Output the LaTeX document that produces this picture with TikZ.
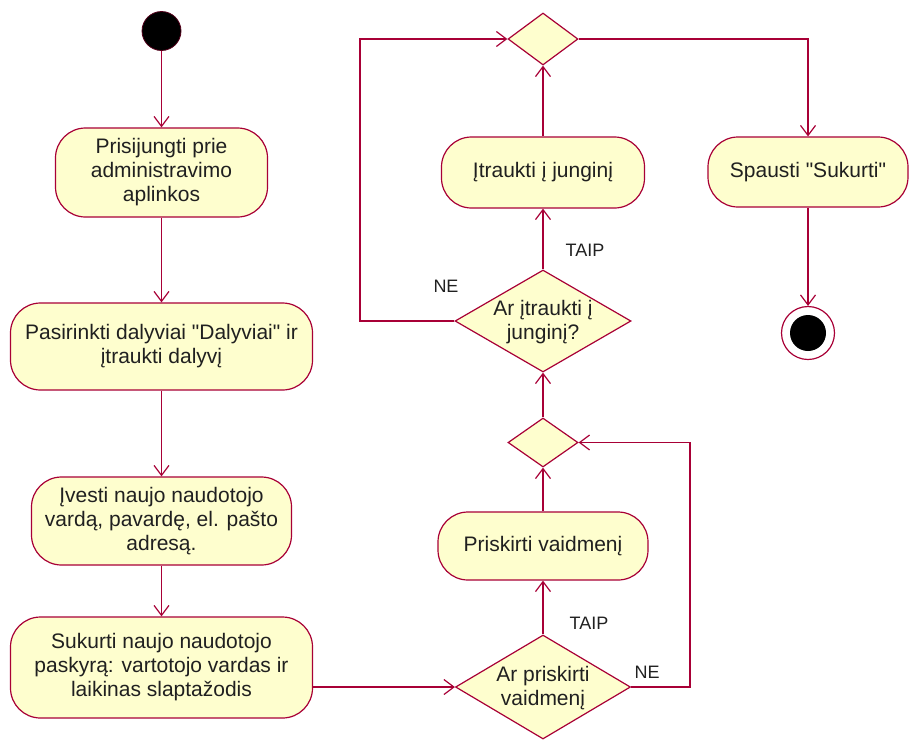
\documentclass[tikz,border=0pt]{standalone}
\usepackage{fontspec}
\setmainfont{Liberation Sans}[Ligatures=TeXOff]
\usetikzlibrary{shapes.geometric,arrows.meta,backgrounds}

\definecolor{umlred}{HTML}{A80036}
\definecolor{umlfill}{HTML}{FEFECE}
\definecolor{umltext}{HTML}{202020}

\tikzset{
  action/.style={draw=umlred, fill=umlfill, line width=1.2pt, rounded corners=30pt,
    inner sep=0pt, align=center, text=umltext, font=\fontsize{21}{24}\selectfont},
  decision/.style={diamond, draw=umlred, fill=umlfill, line width=1.2pt, inner sep=0pt},
  dtext/.style={align=center, text=umltext, inner sep=0pt, font=\fontsize{21}{24}\selectfont},
  guard/.style={text=umltext, inner sep=0pt, font=\fontsize{18}{21}\selectfont},
  initial/.style={circle, fill=black, draw=umlred!50!black, line width=0.8pt,
    minimum size=39pt, inner sep=0pt},
  finalring/.style={circle, draw=umlred, fill=white, line width=1.2pt,
    minimum size=53pt, inner sep=0pt},
  finaldot/.style={circle, fill=black, minimum size=36pt, inner sep=0pt},
  flow/.style={draw=umlred, line width=1.2pt,
    -{Straight Barb[length=10pt,width=15pt,line width=1.2pt]}},
}

\begin{document}
\begin{tikzpicture}[x=1pt,y=-1pt]
  \useasboundingbox (0,0) rectangle (910,740);

  % left column
  \node[initial] (start) at (161.5,31) {};
  \node[action, minimum width=212pt, minimum height=89pt] (b1) at (161.5,172.5)
    {Prisijungti prie\\administravimo\\aplinkos};
  \node[action, minimum width=302pt, minimum height=87pt] (b2) at (161.5,346.5)
    {Pasirinkti dalyviai "Dalyviai" ir\\įtraukti dalyvį};
  \node[action, minimum width=260pt, minimum height=88pt] (b3) at (161.5,521)
    {Įvesti naujo naudotojo\\vardą, pavardę, el. pašto\\adresą.};
  \node[action, minimum width=302pt, minimum height=101pt] (b4) at (161.5,667.5)
    {Sukurti naujo naudotojo\\paskyrą: vartotojo vardas ir\\laikinas slaptažodis};

  % middle column
  \node[decision, minimum width=175pt, minimum height=104pt] (d1) at (543,687) {};
  \node[dtext] (d1t) at (543,688) {Ar priskirti\\vaidmenį};
  \node[action, minimum width=210pt, minimum height=68pt] (p1) at (543,546)
    {Priskirti vaidmenį};
  \node[decision, minimum width=70pt, minimum height=49pt] (d2) at (543,442.5) {};
  \node[decision, minimum width=176pt, minimum height=102pt] (d3) at (543,321) {};
  \node[dtext] (d3t) at (543,322) {Ar įtraukti į\\junginį?};
  \node[action, minimum width=203pt, minimum height=71pt] (p2) at (543,172.5)
    {Įtraukti į junginį};
  \node[decision, minimum width=70pt, minimum height=52pt] (d4) at (543,39) {};

  % right column
  \node[action, minimum width=200pt, minimum height=70pt] (p3) at (808,172)
    {Spausti "Sukurti"};
  \node[finalring] (endring) at (808,333) {};
  \node[finaldot] (enddot) at (808,333) {};

  % bends of the return paths
  \coordinate (loopL) at (360,39);
  \coordinate (loopR) at (690,442.5);

  % guard labels
  \node[guard] (taip1) at (585,250) {TAIP};
  \node[guard] (ne1) at (446,286) {NE};
  \node[guard] (taip2) at (589,623) {TAIP};
  \node[guard] (ne2) at (647,672) {NE};

  \begin{pgfonlayer}{background}
    \draw[flow] (start) -- (b1);
    \draw[flow] (b1) -- (b2);
    \draw[flow] (b2) -- (b3);
    \draw[flow] (b3) -- (b4);
    \draw[flow] (b4.east |- d1.west) -- (d1.west);
    \draw[flow] (d1.north) -- (p1.south);
    \draw[flow] (d1.east) -| (loopR) -- (d2.east);
    \draw[flow] (p1.north) -- (d2.south);
    \draw[flow] (d2.north) -- (d3.south);
    \draw[flow] (d3.north) -- (p2.south);
    \draw[flow] (d3.west) -| (loopL) -- (d4.west);
    \draw[flow] (p2.north) -- (d4.south);
    \draw[flow] (d4.east) -| (p3.north);
    \draw[flow] (p3.south) -- (endring.north);
  \end{pgfonlayer}
\end{tikzpicture}
\end{document}
